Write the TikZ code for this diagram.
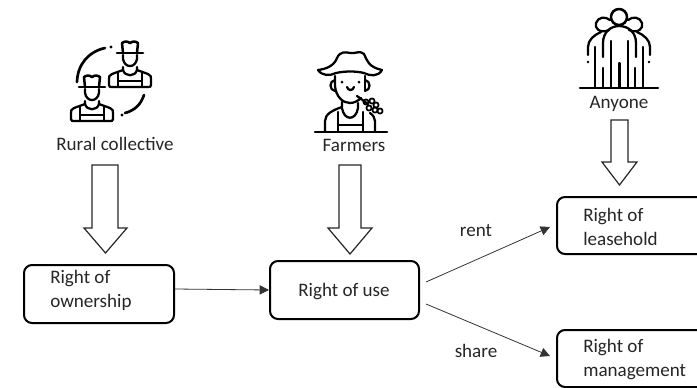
\documentclass[tikz,border=0pt]{standalone}
\usepackage{fontspec}
\setmainfont{Carlito}
\usetikzlibrary{arrows.meta}
\tikzset{
  x=0.75pt,y=-0.75pt,
  rightbox/.style={draw=black,line width=1.5pt,rounded corners=6pt,fill=white},
  lbl/.style={inner sep=0pt,font=\fontsize{14.3}{17}\selectfont,text=black!85},
  lblleft/.style={lbl,align=left,anchor=west},
  conn/.style={draw=black!80,line width=0.6pt,-{Triangle[length=7pt,width=7pt]}},
  blockarrow/.style={draw=black!85,line width=0.9pt,fill=white,line join=miter},
  icon/.style={draw=black,line width=1.7pt,line cap=round,line join=round},
  pics/worker/.style={code={
    \draw[icon,line width=2pt] (-13,0) -- (13,0);
    \draw[icon,line width=1.9pt] (-7,0) -- (-8,-10) .. controls (-5,-12) and (-3,-12) .. (0,-10) .. controls (3,-12) and (5,-12) .. (8,-10) -- (7,0);
    \draw[icon] (-7,2) -- (-7,6) .. controls (-6,11) and (-3,13) .. (0,13) .. controls (3,13) and (6,11) .. (7,6) -- (7,2);
    \draw[icon] (-7,14) -- (-7,17) -- (-18,21) .. controls (-21,22) and (-21,24) .. (-21,26) -- (-21,32) .. controls (-21,34) and (-20,34) .. (-18,34) -- (18,34) .. controls (20,34) and (21,34) .. (21,32) -- (21,26) .. controls (21,24) and (21,22) .. (18,21) -- (7,17) -- (7,14);
    \draw[icon] (-7,17) .. controls (-5,24) and (5,24) .. (7,17);
    \draw[icon] (-12,20) -- (-12,34) (12,20) -- (12,34) (-12,28) -- (12,28);
  }}
}
\begin{document}
\begin{tikzpicture}
\useasboundingbox (0,0) rectangle (697,387);
\clip (0,0) rectangle (697,387);
% boxes
\node[rightbox,minimum width=112.5pt,minimum height=43.5pt] (own) at (99,294) {};
\node[rightbox,minimum width=111.75pt,minimum height=43.5pt] (use) at (344.5,290) {};
\node[rightbox,minimum width=120pt,minimum height=42.75pt,anchor=west] (lease) at (556,225.5) {};
\node[rightbox,minimum width=120pt,minimum height=42.75pt,anchor=west] (manage) at (556,358.5) {};
% box texts
\node[lblleft] (townA) at (50,279) {Right of};
\node[lblleft] (townB) at (50,302) {ownership};
\node[lbl] (tuse) at (344,292) {Right of use};
\node[lblleft] (tleaseA) at (583,217) {Right of};
\node[lblleft] (tleaseB) at (583,239) {leasehold};
\node[lblleft] (tmanA) at (583,348) {Right of};
\node[lblleft] (tmanB) at (583,372) {management};
% connectors
\coordinate (useR) at (426,282);
\coordinate (useS) at (426,304);
\coordinate (leaseIn) at (550,227);
\coordinate (manIn) at (550,356);
\draw[conn] ([yshift=3.75pt]own.east) -- (use.west);
\draw[conn] (useR) -- (leaseIn);
\draw[conn] (useS) -- (manIn);
\node[lbl] (rent) at (476,231) {rent};
\node[lbl] (share) at (476,351) {share};
% block arrows
\draw[blockarrow] (92,165) -- (118,165) -- (118,228) -- (127,228) -- (105.5,253) -- (84,228) -- (92,228) -- cycle;
\draw[blockarrow] (339,165) -- (361,165) -- (361,228) -- (372,228) -- (350,254) -- (328,228) -- (339,228) -- cycle;
\draw[blockarrow] (611,120) -- (628,120) -- (628,162) -- (637,162) -- (619.5,185) -- (602,162) -- (611,162) -- cycle;
% icon labels
\node[lbl] (rural) at (115,144) {Rural collective};
\node[lbl] (farm) at (354,145) {Farmers};
\node[lbl] (any) at (619,104) {Anyone};
% rural collective icon
\pic at (130,53) {worker};
\pic at (92,87) {worker};
\draw[icon,line width=2pt] (77,82) to[bend left=38] (105,48);
\draw[icon,line width=2pt] (144,95) to[bend left=28] (125,113);
\fill (111,47) circle (1.7);
\fill (122,115) circle (1.7);
% farmer icon
\draw[icon] (318,70) .. controls (326,69) and (334,66) .. (337,58) .. controls (340,51) and (346,52) .. (350,53) .. controls (355,54) and (360,50) .. (364,54) .. controls (367,60) and (368,67) .. (382,70) .. controls (378,77) and (370,76) .. (364,73) .. controls (356,71) and (345,71) .. (336,73) .. controls (330,76) and (322,76) .. (318,70) -- cycle;
\draw[icon] (335,76) -- (335,86) .. controls (336,97) and (343,103) .. (350,103) .. controls (354,103) and (358,101) .. (361,98);
\draw[icon] (365,76) -- (365,90);
\draw[icon] (335,80) .. controls (329,81) and (329,90) .. (335,91);
\draw[icon] (365,80) .. controls (371,81) and (371,90) .. (365,91);
\fill (342,82) circle (1.5) (359,82) circle (1.5);
\draw[icon] (347,87) .. controls (348,91) and (353,91) .. (354,87);
\draw[icon] (357,96) -- (368,104);
\foreach \p in {(366,102),(372,101),(376,105),(369,108),(375,110),(380,111)}
  \draw[icon,line width=1.3pt] \p circle (2.6);
\draw[icon,line width=1.9pt] (315,132) -- (387,132);
\draw[icon] (325,131) -- (325,121) .. controls (325,114) and (333,110) .. (342,107) -- (342,102);
\draw[icon] (375,131) -- (375,121) .. controls (375,118) and (373,115) .. (370,113);
\draw[icon] (342,108) .. controls (344,121) and (356,121) .. (358,108) -- (358,103);
\draw[icon] (338,112) -- (338,131) (363,112) -- (363,131) (338,125) -- (363,125);
% anyone icon
\draw[icon,line width=2pt] (580,88) -- (658,88);
\draw[icon,line width=1.9pt] (619,17) circle (8);
\draw[icon] (609,30) .. controls (600,34) and (594,28) .. (596,23) .. controls (598,17) and (605,16) .. (610,20);
\draw[icon] (629,30) .. controls (638,34) and (644,28) .. (642,23) .. controls (640,17) and (633,16) .. (628,20);
\draw[icon] (603,57) -- (603,43) .. controls (603,32) and (611,26) .. (619,26) .. controls (628,26) and (636,32) .. (636,43) -- (636,57);
\draw[icon] (588,55) -- (588,47) .. controls (588,40) and (594,35) .. (601,32);
\draw[icon] (650,55) -- (650,47) .. controls (650,40) and (644,35) .. (637,32);
\draw[icon] (611,41) -- (611,87) (628,41) -- (628,87) (619.5,63) -- (619.5,87) (603,68) -- (603,87) (635,68) -- (635,87) (595,47) -- (595,87) (643,47) -- (643,87);
\fill (588,62) circle (1.4) (649,62) circle (1.4);
\end{tikzpicture}
\end{document}
